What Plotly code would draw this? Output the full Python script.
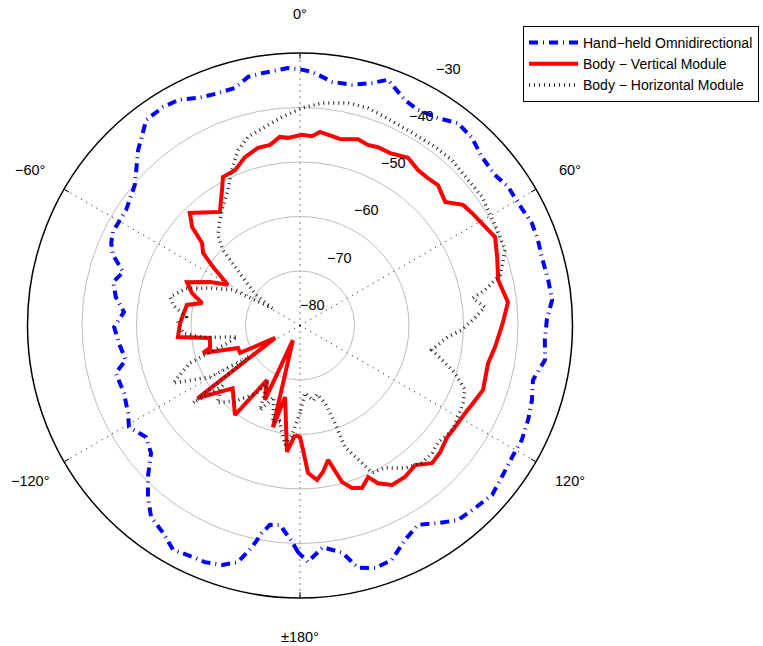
import math
import plotly.graph_objects as go

# ---------------- data (angle in degrees, clockwise from top; level in dB) -------------
hand_theta = [-179.5, -177.9, -174.3, -171.4, -169.6, -167.8, -165.3, -162.0, -158.1, -155.2,
              -150.5, -146.6, -142.1, -138.5, -134.9, -130.6, -125.9, -120.7, -117.0, -111.0,
              -104.5, -101.2, -95.5, -90.5, -85.6, -81.2, -76.9, -73.2, -69.3, -66.4,
              -63.4, -56.4, -49.6, -42.7, -36.8, -32.1, -28.2, -23.9, -19.4, -15.3,
              -11.8, -8.6, -2.7, 0.0, 2.7, 7.5, 12.2, 16.5, 19.7, 25.0,
              28.7, 33.6, 38.0, 42.5, 47.2, 52.3, 56.3, 60.7, 66.2, 70.2,
              74.2, 79.6, 84.2, 88.7, 93.4, 98.0, 103.2, 107.8, 112.5, 117.3,
              121.8, 126.9, 131.4, 136.2, 140.9, 145.1, 149.4, 153.9, 158.6, 162.8,
              166.5, 169.5, 174.1, 178.1, 180.5]
hand_r = [-38.4, -40.3, -43.2, -43.0, -41.3, -38.4, -35.1, -33.8, -33.2, -33.2,
          -32.7, -34.4, -35.5, -37.9, -40.6, -44.0, -45.1, -43.5, -44.6, -45.4,
          -45.1, -47.4, -46.6, -45.9, -47.6, -45.8, -44.8, -46.1, -43.3, -42.2,
          -41.6, -41.7, -40.2, -36.2, -32.9, -32.7, -33.0, -34.3, -34.8, -34.8,
          -33.4, -33.2, -32.7, -33.0, -33.4, -34.9, -34.8, -33.6, -32.1, -34.4,
          -34.9, -34.3, -32.9, -33.3, -34.5, -34.8, -34.1, -34.1, -33.5, -33.6,
          -33.9, -33.7, -33.5, -34.7, -35.0, -34.6, -36.1, -35.3, -34.7, -34.2,
          -34.2, -33.7, -33.0, -33.6, -34.0, -35.8, -37.5, -36.2, -33.8, -33.4,
          -34.3, -37.6, -39.1, -36.6, -38.4]

vert_theta = [-177.4, -174.1, -168.2, -165.1, -154.2, -154.8, -148.8, -144.0, -133.0, -125.4,
              -116.6, -114.6, -110.0, -105.8, -104.0, -97.9, -95.4, -88.8, -79.7, -77.1,
              -73.3, -69.0, -64.2, -60.6, -56.1, -53.2, -49.9, -47.6, -44.4, -35.2,
              -29.9, -27.4, -22.7, -18.1, -13.3, -9.4, -6.1, -3.7, 0.6, 3.6,
              5.9, 12.1, 17.3, 20.6, 23.6, 27.6, 32.8, 37.2, 40.9, 44.5,
              49.6, 53.5, 56.8, 62.0, 65.6, 70.8, 77.1, 83.6, 89.3, 96.3,
              101.3, 109.4, 114.1, 117.9, 123.2, 127.2, 132.3, 136.2, 140.5, 145.3,
              150.0, 153.7, 155.8, 159.1, 162.3, 165.0, 168.2, 171.1, 173.7, 176.9,
              178.6, 180.0, 182.6]
vert_r = [-59.9, -56.7, -66.6, -60.7, -77.0, -64.9, -68.3, -59.7, -63.1, -57.0,
          -74.9, -67.9, -67.9, -61.5, -63.0, -63.3, -57.5, -58.0, -58.9, -61.6,
          -59.3, -57.8, -61.7, -64.8, -60.8, -57.8, -56.5, -53.2, -51.1, -54.5,
          -51.3, -49.3, -49.1, -47.5, -46.5, -46.4, -45.2, -45.5, -45.0, -45.2,
          -44.3, -45.0, -44.2, -44.6, -44.3, -44.3, -43.4, -44.2, -44.2, -43.9,
          -45.0, -42.8, -42.3, -41.5, -40.7, -41.7, -42.7, -41.6, -42.8, -44.0,
          -44.8, -44.4, -45.2, -45.7, -46.0, -46.1, -45.3, -45.0, -46.8, -46.2,
          -46.2, -47.7, -49.5, -48.1, -48.7, -50.3, -54.8, -52.8, -51.5, -52.9,
          -57.2, -59.5, -59.9]

horiz_theta = [-180.0, -176.0, -172.8, -168.0, -164.5, -160.0, -154.7, -150.0, -147.5, -140.0,
               -133.0, -128.0, -125.9, -122.0, -119.8, -114.4, -108.8, -104.0, -100.3, -97.0,
               -93.7, -88.0, -85.7, -81.0, -77.6, -72.0, -67.4, -62.0, -58.0, -55.0,
               -51.3, -45.6, -42.2, -38.0, -33.0, -28.0, -24.0, -19.5, -15.4, -10.0,
               -4.9, 0.5, 5.6, 12.2, 17.4, 22.2, 30.2, 37.1, 42.6, 49.1,
               54.8, 58.4, 64.1, 69.8, 75.8, 79.1, 81.0, 84.3, 87.5, 91.6,
               94.4, 100.5, 104.5, 107.0, 111.3, 115.4, 120.0, 124.5, 130.4, 134.0,
               138.4, 143.6, 149.2, 153.9, 155.7, 159.7, 160.3, 162.0, 166.0, 170.0,
               175.8, 180.0]
horiz_r = [-64.0, -60.0, -57.9, -62.0, -61.4, -66.0, -62.8, -68.0, -65.3, -62.0,
           -59.2, -62.0, -55.8, -69.0, -61.0, -54.4, -58.7, -66.0, -68.3, -62.0,
           -58.5, -57.5, -59.0, -56.5, -55.6, -58.0, -62.1, -66.0, -74.0, -70.0,
           -67.5, -60.2, -57.6, -56.0, -54.0, -51.9, -49.0, -45.9, -44.1, -43.0,
           -41.6, -40.1, -39.0, -38.2, -38.2, -38.7, -39.1, -38.9, -38.8, -39.2,
           -39.1, -39.5, -39.8, -39.9, -42.1, -45.4, -47.9, -45.9, -47.9, -50.3,
           -52.8, -55.4, -52.5, -50.3, -47.5, -46.9, -46.5, -46.1, -46.8, -46.3,
           -46.3, -47.5, -49.6, -49.9, -52.3, -56.2, -61.0, -65.0, -67.0, -66.0,
           -67.6, -64.0]

ring_values = [-80, -70, -60, -50, -40, -30]
ring_labels = ["\u221280", "\u221270", "\u221260", "\u221250", "\u221240", "\u221230"]
spoke_angles = [0, 60, 120, 180, 240, 300]
spoke_labels = ["0\u00b0", "60\u00b0", "120\u00b0", "\u00b1180\u00b0", "\u2212120\u00b0", "\u221260\u00b0"]

# ---------------- geometry of the polar area -------------
W, H = 763, 646
DOM_X = [0.03604, 0.75033]
DOM_Y = [0.0743, 0.9180]
R_MIN, R_MAX = -80, -30
CX = (DOM_X[0] + DOM_X[1]) / 2
CY = (DOM_Y[0] + DOM_Y[1]) / 2
R_PX = (DOM_X[1] - DOM_X[0]) * W / 2


def polar_to_paper(theta_deg, dist_px):
    t = math.radians(theta_deg)
    return CX + dist_px * math.sin(t) / W, CY + dist_px * math.cos(t) / H


FONT = "Liberation Sans, Arial, Helvetica, sans-serif"
annotations = []
# radial labels, placed along the 30 degree direction just outside each ring
for v, lab in zip(ring_values, ring_labels):
    d = (v - R_MIN) / (R_MAX - R_MIN) * R_PX + 24
    x, y = polar_to_paper(30, d)
    annotations.append(dict(x=x, y=y, xref="paper", yref="paper", text=lab, showarrow=False,
                            xanchor="center", yanchor="middle",
                            font=dict(size=14.5, color="black", family=FONT)))
# angular labels, outside the outer circle
for a, lab in zip(spoke_angles, spoke_labels):
    x, y = polar_to_paper(a, R_PX * 1.142)
    annotations.append(dict(x=x, y=y, xref="paper", yref="paper", text=lab, showarrow=False,
                            xanchor="center", yanchor="middle",
                            font=dict(size=14.5, color="black", family=FONT)))

# ---------------- figure -------------
fig = go.Figure()
fig.add_trace(go.Scatterpolar(
    r=hand_r, theta=hand_theta, mode="lines", name="Hand\u2212held Omnidirectional",
    line=dict(color="#0000ff", width=4, dash="9px,5px,1px,5px")))
fig.add_trace(go.Scatterpolar(
    r=vert_r, theta=vert_theta, mode="lines", name="Body \u2212 Vertical Module",
    line=dict(color="#ff0000", width=4)))
fig.add_trace(go.Scatterpolar(
    r=horiz_r, theta=horiz_theta, mode="lines", name="Body \u2212 Horizontal Module",
    line=dict(color="#222222", width=3.5, dash="1px,4px")))

fig.update_layout(
    width=W, height=H,
    margin=dict(l=0, r=0, t=0, b=0),
    paper_bgcolor="white",
    font=dict(family=FONT, size=14.5, color="black"),
    polar=dict(
        domain=dict(x=DOM_X, y=DOM_Y),
        bgcolor="white",
        radialaxis=dict(range=[R_MIN, R_MAX], tickvals=ring_values[1:-1], showticklabels=False,
                        ticks="", showline=False, gridcolor="#bdbdbd", gridwidth=1, angle=30),
        angularaxis=dict(rotation=90, direction="clockwise", tickvals=spoke_angles,
                         showticklabels=False, ticks="inside", ticklen=5, tickcolor="black",
                         showline=True, linecolor="black", linewidth=1.5,
                         gridcolor="black", griddash="1px,5px", gridwidth=1),
    ),
    legend=dict(x=523 / W, y=1 - 26 / H, xanchor="left", yanchor="top",
                bgcolor="white", bordercolor="black", borderwidth=1, itemwidth=49,
                font=dict(size=14, family=FONT, color="black"), tracegroupgap=0),
    annotations=annotations,
    showlegend=True,
)

fig.write_html("out.html")
